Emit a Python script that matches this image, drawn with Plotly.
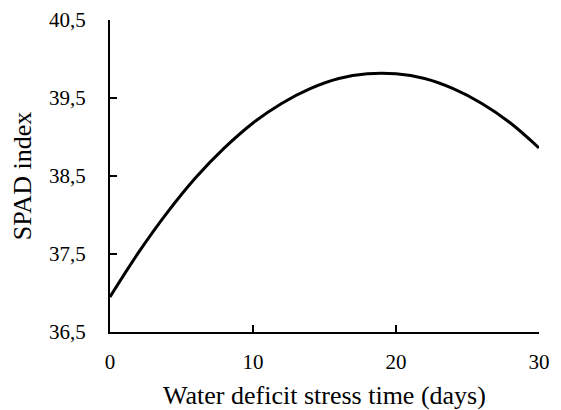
import plotly.graph_objects as go

days = [0, 2, 4, 6, 8, 10, 12, 14, 16, 18, 20, 22, 24, 26, 28, 30]
spad = [36.95, 37.52, 38.03, 38.48, 38.86, 39.18, 39.43, 39.62, 39.75, 39.81,
        39.81, 39.75, 39.62, 39.43, 39.18, 38.86]

x_ticks = [0, 10, 20, 30]
y_ticks = [36.5, 37.5, 38.5, 39.5, 40.5]
y_tick_labels = ["36,5", "37,5", "38,5", "39,5", "40,5"]

font_family = "Liberation Serif"

fig = go.Figure()
fig.add_trace(go.Scatter(x=days, y=spad, mode="lines",
                         line=dict(color="black", width=3, shape="spline"),
                         showlegend=False, hoverinfo="skip"))

# page body has an 8px margin, so the figure is 8px smaller than the window
fig.update_layout(
    width=553, height=402,
    margin=dict(l=102, r=22, t=12, b=78),
    paper_bgcolor="white", plot_bgcolor="white",
    font=dict(family=font_family, size=21, color="black"),
    xaxis=dict(range=[0, 30], tickvals=x_ticks, ticks="inside", ticklen=7,
               tickwidth=2, tickcolor="black", showline=True, linecolor="black",
               linewidth=2, showgrid=False, zeroline=False, automargin=False,
               ticklabelstandoff=10,
               title=dict(text="Water deficit stress time (days)", standoff=14,
                          font=dict(size=26))),
    yaxis=dict(range=[36.5, 40.5], tickvals=y_ticks, ticktext=y_tick_labels,
               ticks="inside", ticklen=7, tickwidth=2, tickcolor="black",
               showline=True, linecolor="black", linewidth=2, showgrid=False,
               zeroline=False, automargin=False, ticklabelstandoff=18,
               title=dict(text="SPAD index", standoff=10, font=dict(size=26))),
)

fig.write_html("out.html")
